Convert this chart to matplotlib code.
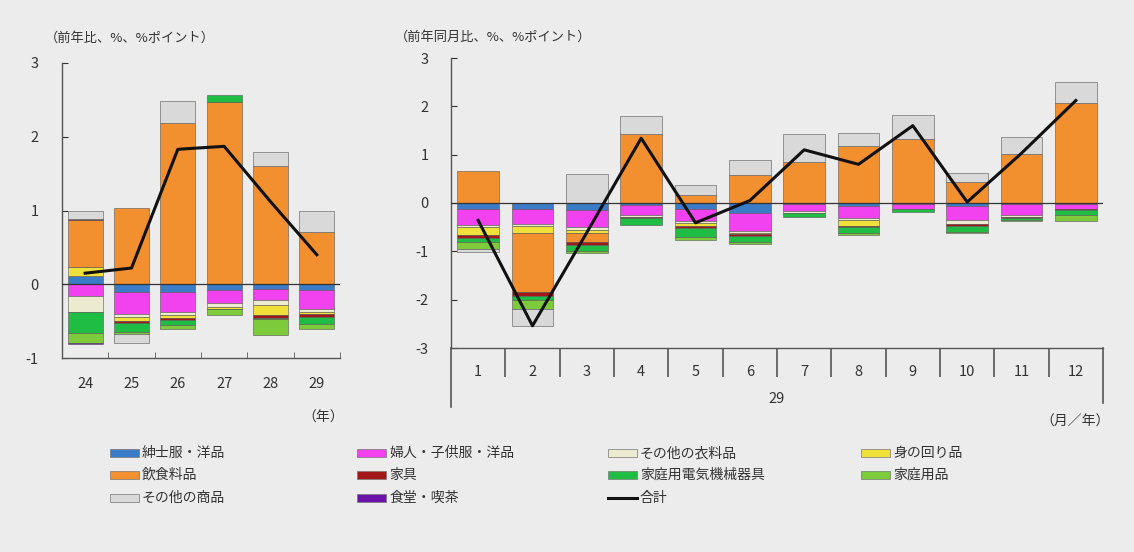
import numpy as np
import matplotlib.pyplot as plt
from matplotlib.patches import Rectangle
from matplotlib.lines import Line2D
import matplotlib.transforms as mtransforms

plt.rcParams['font.family'] = ['Noto Sans CJK JP', 'DejaVu Sans']
plt.rcParams['axes.unicode_minus'] = False

# ---- data ----
years = ['24', '25', '26', '27', '28', '29']
months = ['1', '2', '3', '4', '5', '6', '7', '8', '9', '10', '11', '12']

labels = ['紳士服・洋品', '婦人・子供服・洋品', 'その他の衣料品', '身の回り品',
          '飲食料品', '家具', '家庭用電気機械器具', '家庭用品',
          'その他の商品', '食堂・喫茶']

# annual (前年比)
mens_y = [0.11, -0.11, -0.11, -0.08, -0.07, -0.08]
women_y = [-0.16, -0.29, -0.26, -0.18, -0.15, -0.25]
otherclothes_y = [-0.22, -0.05, -0.05, -0.05, -0.06, -0.04]
personal_y = [0.12, -0.05, -0.04, -0.02, -0.14, -0.04]
food_y = [0.64, 1.04, 2.18, 2.47, 1.60, 0.71]
furniture_y = [0.02, -0.03, -0.02, -0.01, -0.04, -0.03]
appliances_y = [-0.28, -0.12, -0.07, 0.09, -0.01, -0.10]
household_y = [-0.13, -0.02, -0.05, -0.08, -0.22, -0.06]
othergoods_y = [0.10, -0.12, 0.30, 0.0, 0.20, 0.29]
dining_y = [-0.02, 0.0, 0.0, 0.0, 0.0, 0.0]
total_y = [0.15, 0.22, 1.83, 1.87, 1.12, 0.40]

# monthly, year 29 (前年同月比)
mens_m = [-0.13, -0.13, -0.14, -0.05, -0.13, -0.20, -0.03, -0.07, -0.02, -0.06, -0.03, -0.03]
women_m = [-0.32, -0.30, -0.36, -0.19, -0.25, -0.38, -0.14, -0.23, -0.11, -0.30, -0.22, -0.09]
otherclothes_m = [-0.05, -0.05, -0.05, -0.05, -0.04, -0.04, -0.04, -0.05, 0.0, -0.07, -0.03, 0.0]
personal_m = [-0.16, -0.14, -0.07, 0.0, -0.06, -0.02, 0.0, -0.12, 0.0, 0.0, 0.0, 0.0]
food_m = [0.67, -1.23, -0.19, 1.42, 0.16, 0.57, 0.85, 1.17, 1.33, 0.43, 1.02, 2.07]
furniture_m = [-0.06, -0.07, -0.05, -0.02, -0.04, -0.04, 0.0, -0.03, 0.0, -0.05, -0.03, -0.03]
appliances_m = [-0.08, -0.08, -0.14, -0.14, -0.18, -0.12, -0.09, -0.12, -0.05, -0.12, -0.05, -0.10]
household_m = [-0.15, -0.19, -0.04, 0.0, -0.07, -0.05, 0.0, -0.04, 0.0, -0.03, -0.02, -0.12]
othergoods_m = [-0.07, -0.36, 0.59, 0.38, 0.22, 0.31, 0.58, 0.28, 0.49, 0.20, 0.35, 0.43]
dining_m = [0.0] * 12
total_m = [-0.36, -2.54, -0.61, 1.34, -0.41, 0.05, 1.10, 0.80, 1.60, 0.02, 1.03, 2.12]

colors = ['#3b7cc8', '#f242f0', '#ecebcf', '#efe03a', '#f28f2e',
          '#a3171b', '#20bd45', '#7dcb3b', '#d9d9d9', '#6b12a8']

W, H = 1134, 552
bg = '#ececec'
txt = '#333333'


def stacked(ax, x, series, width):
    pos = np.zeros(len(x))
    neg = np.zeros(len(x))
    for vals, c in zip(series, colors):
        v = np.array(vals, dtype=float)
        m = v != 0
        bottom = np.where(v >= 0, pos, neg)
        ax.bar(x[m], v[m], width, bottom=bottom[m], color=c,
               edgecolor='#555555', linewidth=0.4, zorder=2)
        pos += np.clip(v, 0, None)
        neg += np.clip(v, None, 0)


def style(ax):
    ax.set_facecolor(bg)
    for s in ['top', 'right']:
        ax.spines[s].set_visible(False)
    for s in ['left', 'bottom']:
        ax.spines[s].set_color('#555555')
        ax.spines[s].set_linewidth(1.0)
    ax.axhline(0, color='#333333', lw=0.9, zorder=3)
    ax.tick_params(axis='both', colors=txt, labelsize=10.5)


fig = plt.figure(figsize=(W / 100, H / 100), dpi=100, facecolor=bg)

# ---- left: annual ----
ax1 = fig.add_axes([62 / W, 1 - 358 / H, 278 / W, 295 / H])
style(ax1)
xy = np.arange(len(years))
stacked(ax1, xy, [mens_y, women_y, otherclothes_y, personal_y, food_y,
                  furniture_y, appliances_y, household_y, othergoods_y, dining_y], 0.76)
ax1.plot(xy, total_y, color='#111111', lw=2.2, zorder=4)
ax1.set_xlim(-0.5, len(years) - 0.5)
ax1.set_ylim(-1, 3)
ax1.set_yticks([-1, 0, 1, 2, 3])
ax1.tick_params(axis='y', direction='in', length=4, pad=17)
ax1.set_xticks(xy)
ax1.set_xticklabels(years)
ax1.set_xticks(np.arange(len(years) + 1) - 0.5, minor=True)
ax1.tick_params(axis='x', which='major', length=0, pad=14)
ax1.tick_params(axis='x', which='minor', direction='in', length=4, color='#555555')
fig.text(45 / W, 1 - 38 / H, '（前年比、%、%ポイント）', fontsize=9.5, color=txt,
         ha='left', va='center')
fig.text(323 / W, 1 - 418 / H, '（年）', fontsize=10, color=txt, ha='center', va='center')

# ---- right: monthly ----
ax2 = fig.add_axes([451 / W, 1 - 348 / H, 652 / W, 290 / H])
style(ax2)
xm = np.arange(len(months))
stacked(ax2, xm, [mens_m, women_m, otherclothes_m, personal_m, food_m,
                  furniture_m, appliances_m, household_m, othergoods_m, dining_m], 0.77)
ax2.plot(xm, total_m, color='#111111', lw=2.2, zorder=4)
ax2.set_xlim(-0.5, len(months) - 0.5)
ax2.set_ylim(-3, 3)
ax2.set_yticks([-3, -2, -1, 0, 1, 2, 3])
ax2.tick_params(axis='y', direction='in', length=4, pad=16)
ax2.set_xticks(xm)
ax2.set_xticklabels(months)
ax2.set_xticks(np.arange(1, len(months)) - 0.5, minor=True)
ax2.tick_params(axis='x', which='major', length=0, pad=12)
ax2.tick_params(axis='x', which='minor', direction='out', length=21, width=1.2,
                color='#555555')
# extended end lines below the axis
ax2.add_line(Line2D([0, 0], [0, -59 / 290], transform=ax2.transAxes,
                    color='#555555', lw=1.2, clip_on=False))
ax2.add_line(Line2D([1, 1], [0, -55 / 290], transform=ax2.transAxes,
                    color='#555555', lw=1.2, clip_on=False))
trans = mtransforms.blended_transform_factory(ax2.transData, ax2.transAxes)
ax2.text((len(months) - 1) / 2, -51 / 290, '29', transform=trans, fontsize=10.5,
         color=txt, ha='center', va='center')
fig.text(395 / W, 1 - 37 / H, '（前年同月比、%、%ポイント）', fontsize=9.5, color=txt,
         ha='left', va='center')
fig.text(1075 / W, 1 - 422 / H, '（月／年）', fontsize=10, color=txt, ha='center', va='center')

# ---- legend (4 columns, filled row by row) ----
col_x = [110, 357, 608, 861]
row_y = [453, 475, 498]
items = list(zip(labels, colors)) + [('合計', None)]
for k, (lab, c) in enumerate(items):
    x = col_x[k % 4]
    y = row_y[k // 4]
    if c is None:
        fig.add_artist(Line2D([x / W, (x + 29) / W], [1 - y / H, 1 - y / H],
                              transform=fig.transFigure, color='#111111', lw=2.2))
    else:
        fig.add_artist(Rectangle((x / W, 1 - (y + 4) / H), 29 / W, 8 / H,
                                 transform=fig.transFigure, facecolor=c,
                                 edgecolor='#777777', linewidth=0.5))
    fig.text((x + 32) / W, 1 - y / H, lab, fontsize=10, color=txt,
             ha='left', va='center')

fig.savefig('out.png', dpi=100, facecolor=bg)
